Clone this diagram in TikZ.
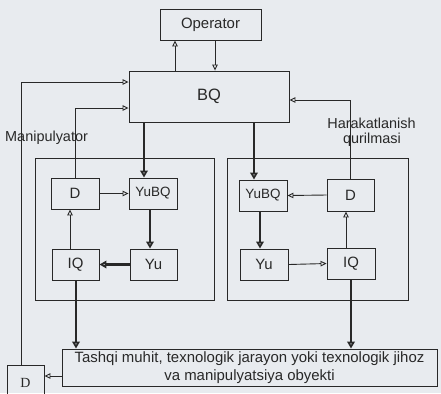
\documentclass[tikz,border=0pt]{standalone}
\usepackage{fontspec}
\setmainfont{Liberation Sans}
\newfontfamily\timesfont{Liberation Serif}
\usetikzlibrary{arrows.meta}
\definecolor{paper}{RGB}{232,235,239}
\definecolor{ink}{RGB}{40,40,40}
\begin{document}
\begin{tikzpicture}[x=1bp,y=-1bp,
  blk/.style={draw=ink,line width=0.9bp,inner sep=0pt,text=ink,
    font=\fontsize{15}{18}\selectfont},
  panel/.style={draw=ink,line width=0.9bp,inner sep=0pt},
  lbl/.style={inner sep=0pt,text=ink,font=\fontsize{14.5}{17}\selectfont},
  thinarr/.style={draw=ink,line width=0.9bp,-{Triangle[open,length=6bp,width=5.5bp]}},
  thickarr/.style={draw=ink,line width=2.4bp,-{Triangle[open,length=7bp,width=7.5bp]}}]
  \fill[paper] (0,0) rectangle (441,393);
  \useasboundingbox (0,0) rectangle (441,393);
  \clip (0,0) rectangle (441,393);
  % top blocks
  \node[blk,minimum width=101bp,minimum height=31bp] (op) at (210.5,24.5) {Operator};
  \node[blk,minimum width=160bp,minimum height=51bp,font=\fontsize{16.5}{19}\selectfont]
    (bq) at (209,96.5) {BQ};
  % the two panels
  \node[panel,minimum width=179bp,minimum height=142bp] (pl) at (124.5,229) {};
  \node[panel,minimum width=181bp,minimum height=142bp] (pr) at (317.5,229) {};
  % left panel (manipulyator)
  \node[blk,minimum width=48bp,minimum height=31bp] (dl) at (75,193.5) {D};
  \node[blk,minimum width=48bp,minimum height=31bp,font=\fontsize{13.5}{16}\selectfont]
    (yubql) at (153,193.5) {YuBQ};
  \node[blk,minimum width=47bp,minimum height=31bp] (iql) at (75.5,264.5) {IQ};
  \node[blk,minimum width=47bp,minimum height=31bp] (yul) at (153.5,264.5) {Yu};
  % right panel (harakatlanish qurilmasi)
  \node[blk,minimum width=48bp,minimum height=31bp,font=\fontsize{13.5}{16}\selectfont]
    (yubqr) at (263,195.5) {YuBQ};
  \node[blk,minimum width=47bp,minimum height=32bp] (dr) at (350.5,195) {D};
  \node[blk,minimum width=48bp,minimum height=31bp] (yur) at (264,264.5) {Yu};
  \node[blk,minimum width=48bp,minimum height=31bp] (iqr) at (351,263.5) {IQ};
  % object and outer sensor
  \node[blk,minimum width=375bp,minimum height=37bp,align=center]
    (obj) at (249.5,367.5) {Tashqi muhit, texnologik jarayon yoki texnologik jihoz\\va manipulyatsiya obyekti};
  \node[blk,minimum width=37bp,minimum height=35bp,font=\timesfont\fontsize{14}{16}\selectfont]
    (dout) at (25.5,382.5) {D};
  % labels
  \node[lbl,anchor=base west] (manip) at (5,141) {Manipulyator};
  \node[lbl,anchor=base] (harak) at (371.5,128) {Harakatlanish};
  \node[lbl,anchor=base] (quril) at (372,143) {qurilmasi};
  % operator <-> BQ
  \draw[thinarr] (bq.north -| 175,0) -- (op.south -| 175,0);
  \draw[thinarr] (op.south -| 215,0) -- (bq.north -| 215,0);
  % feedback lines into BQ
  \draw[thinarr] (dout.north -| 21,0) |- (bq.west |- 0,82);
  \draw[thinarr] (dl.north) |- (bq.west |- 0,108);
  \draw[thinarr] (dr.north) |- (bq.east |- 0,100);
  % left panel
  \draw[thickarr] (bq.south -| 144,0) -- (yubql.north -| 144,0);
  \draw[thickarr] (yubql.south -| 150,0) -- (yul.north -| 150,0);
  \draw[thickarr] (yul.west) -- (iql.east);
  \draw[thinarr] (iql.north -| 70,0) -- (dl.south -| 70,0);
  \draw[thinarr] (dl.east) -- (yubql.west);
  \draw[thickarr] (iql.south -| 76,0) -- (obj.north -| 76,0);
  % right panel
  \draw[thickarr] (bq.south -| 254,0) -- (yubqr.north -| 254,0);
  \draw[thickarr] (yubqr.south -| 260,0) -- (yur.north -| 260,0);
  \draw[thinarr] (dr.west) -- (yubqr.east);
  \draw[thinarr] (yur.east) -- (iqr.west);
  \draw[thinarr] (iqr.north -| 346,0) -- (dr.south -| 346,0);
  \draw[thickarr] (iqr.south -| 351,0) -- (obj.north -| 351,0);
  % object -> outer sensor
  \draw[thinarr] (obj.west |- 0,376) -- (dout.east |- 0,376);
\end{tikzpicture}
\end{document}
